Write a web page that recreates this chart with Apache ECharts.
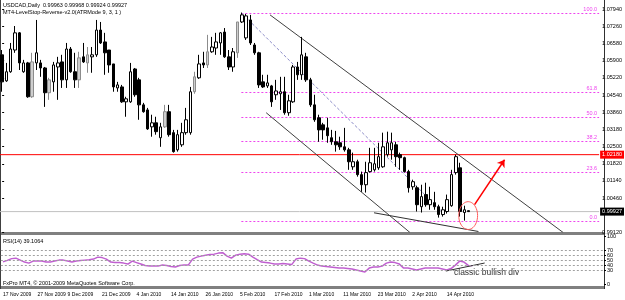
<!DOCTYPE html>
<html>
<head>
<meta charset="utf-8">
<script src="https://cdn.jsdelivr.net/npm/echarts@6.0.0/dist/echarts.min.js"></script>
<style>
  html, body { margin: 0; padding: 0; background: #fff; }
  #chart { width: 625px; height: 300px; }
</style>
</head>
<body>
<div id="chart"></div>
<script>
// USDCAD daily bars, 17 Nov 2009 .. 21 Apr 2010
const opens = [1.0613,1.0510,1.0546,1.0632,1.0700,1.0546,1.0581,1.0447,1.0581,1.0581,
  1.0561,1.0463,1.0506,1.0565,1.0585,1.0514,1.0636,1.0546,1.0514,1.0605,
  1.0581,1.0605,1.0613,1.0711,1.0664,1.0632,1.0577,1.0482,1.0486,1.0427,
  1.0427,1.0557,1.0514,1.0415,1.0395,1.0328,1.0344,1.0285,1.0328,1.0388,
  1.0305,1.0237,1.0257,1.0305,1.0305,1.0467,1.0522,1.0581,1.0573,1.0625,
  1.0640,1.0660,1.0703,1.0605,1.0565,1.0621,1.0743,1.0680,1.0751,1.0652,
  1.0621,1.0506,1.0490,1.0490,1.0455,1.0459,1.0467,1.0384,1.0427,1.0565,
  1.0534,1.0605,1.0514,1.0415,1.0364,1.0336,1.0324,1.0285,1.0269,1.0265,
  1.0249,1.0237,1.0170,1.0190,1.0139,1.0099,1.0151,1.0158,1.0166,1.0170,
  1.0218,1.0237,1.0257,1.0218,1.0206,1.0151,1.0091,1.0087,1.0012,1.0060,
  1.0020,1.0028,1.0012,0.9981,0.9993,1.0016,1.0147,1.0166,0.9989,0.99963];
const highs = [1.0632,1.0581,1.0660,1.0727,1.0703,1.0593,1.0585,1.0621,1.0751,1.0593,
  1.0565,1.0522,1.0585,1.0605,1.0613,1.0660,1.0644,1.0621,1.0625,1.0660,
  1.0644,1.0644,1.0751,1.0743,1.0700,1.0632,1.0577,1.0506,1.0494,1.0447,
  1.0581,1.0561,1.0522,1.0423,1.0403,1.0376,1.0368,1.0344,1.0415,1.0415,
  1.0316,1.0316,1.0344,1.0403,1.0486,1.0546,1.0613,1.0625,1.0692,1.0684,
  1.0700,1.0703,1.0719,1.0632,1.0640,1.0743,1.0780,1.0775,1.0771,1.0660,
  1.0625,1.0534,1.0534,1.0494,1.0514,1.0526,1.0526,1.0455,1.0573,1.0585,
  1.0684,1.0621,1.0522,1.0455,1.0376,1.0344,1.0364,1.0316,1.0312,1.0289,
  1.0324,1.0245,1.0226,1.0198,1.0151,1.0190,1.0245,1.0245,1.0265,1.0305,
  1.0309,1.0305,1.0269,1.0226,1.0210,1.0158,1.0119,1.0095,1.0099,1.0107,
  1.0091,1.0071,1.0020,1.0012,1.0060,1.0158,1.0218,1.0186,1.0016,0.99968];
const lows = [1.0467,1.0506,1.0542,1.0621,1.0553,1.0542,1.0443,1.0443,1.0553,1.0526,
  1.0407,1.0435,1.0467,1.0435,1.0482,1.0482,1.0542,1.0482,1.0482,1.0581,
  1.0542,1.0542,1.0605,1.0656,1.0534,1.0542,1.0467,1.0467,1.0423,1.0368,
  1.0423,1.0447,1.0356,1.0384,1.0316,1.0289,1.0297,1.0249,1.0324,1.0289,
  1.0226,1.0230,1.0249,1.0297,1.0297,1.0459,1.0518,1.0561,1.0561,1.0621,
  1.0613,1.0613,1.0601,1.0553,1.0546,1.0601,1.0739,1.0672,1.0652,1.0613,
  1.0482,1.0482,1.0482,1.0407,1.0435,1.0395,1.0376,1.0372,1.0423,1.0514,
  1.0514,1.0506,1.0407,1.0348,1.0269,1.0277,1.0265,1.0257,1.0230,1.0237,
  1.0230,1.0158,1.0158,1.0131,1.0071,1.0068,1.0147,1.0151,1.0158,1.0166,
  1.0210,1.0198,1.0170,1.0158,1.0147,1.0068,1.0079,0.9993,0.9989,1.0012,
  1.0000,1.0000,0.9969,0.9973,0.9985,1.0012,1.0139,0.9973,0.9957,0.99924];
const closes = [1.0506,1.0546,1.0636,1.0700,1.0581,1.0581,1.0447,1.0585,1.0621,1.0561,
  1.0463,1.0514,1.0573,1.0581,1.0514,1.0636,1.0546,1.0514,1.0601,1.0585,
  1.0613,1.0613,1.0711,1.0660,1.0621,1.0573,1.0486,1.0494,1.0427,1.0439,
  1.0546,1.0455,1.0415,1.0388,1.0320,1.0344,1.0309,1.0328,1.0388,1.0297,
  1.0230,1.0297,1.0305,1.0356,1.0467,1.0526,1.0577,1.0573,1.0625,1.0644,
  1.0664,1.0700,1.0605,1.0565,1.0625,1.0743,1.0771,1.0767,1.0660,1.0621,
  1.0494,1.0486,1.0502,1.0427,1.0470,1.0467,1.0384,1.0431,1.0565,1.0534,
  1.0613,1.0514,1.0415,1.0356,1.0316,1.0316,1.0293,1.0269,1.0257,1.0249,
  1.0237,1.0190,1.0190,1.0139,1.0099,1.0147,1.0186,1.0182,1.0210,1.0249,
  1.0265,1.0265,1.0210,1.0206,1.0151,1.0087,1.0111,1.0020,1.0052,1.0020,
  1.0040,1.0012,0.9981,1.0000,1.0040,1.0139,1.0210,0.9993,1.0000,0.99927];
// bars the indicator paints grey
const greyBars = [7, 11, 18, 20, 38, 45, 48, 55];

const rsiValues = [46.9,50,53.6,54.6,50.5,46.4,44.3,48.5,48.5,48.5,
  46.4,46.4,48.5,50.5,50.5,48.5,46.4,48.5,49.5,50.5,
  51.5,52.6,56.7,55.7,52.6,46.4,45.4,45.4,44.3,42.3,
  48.5,45.4,42.3,39.2,38.1,38.1,38.1,40.2,39.2,37.1,
  36.1,39.2,40.2,40.2,52.6,56.7,58.8,60.8,61.9,62.9,
  65,66,58.8,54.6,60.8,62.9,63.9,62.9,56.7,51.5,
  46.4,45.4,44.3,42.3,42.3,43.3,42.3,41.2,52.6,54.6,
  53.6,48.5,44.3,40.2,38.1,37.1,36.1,35.1,34,34,
  33,32,29.9,27.8,25.8,34,36.1,36.1,38.1,44.3,
  46.4,45.4,42.3,34,34,32,29.9,32,34,34,
  34,34,32,29.9,33,40.2,48.5,46.4,39.5,39.1064];

const barSlots = 140; // visible bar positions incl. empty right margin
const dateTicks = [0, 8, 15, 23, 31, 39, 47, 55, 63, 71, 79, 87, 95, 103];
const dateLabels = ['17 Nov 2009', '27 Nov 2009', '9 Dec 2009', '21 Dec 2009', '4 Jan 2010',
  '14 Jan 2010', '26 Jan 2010', '5 Feb 2010', '17 Feb 2010', '1 Mar 2010', '11 Mar 2010',
  '23 Mar 2010', '2 Apr 2010', '14 Apr 2010'];
const priceTicks = [1.0794, 1.0726, 1.0658, 1.0590, 1.0522, 1.0454, 1.0386, 1.0318,
  1.0250, 1.0182, 1.0114, 1.0046, 0.9912];
const rsiTicks = [0, 30, 40, 50, 60, 70, 100];
const rsiLevels = [30, 40, 50, 60, 70];

// fibo retracement from the Feb high to the Apr low
const fibRatios = [0, 23.6, 38.2, 50, 61.8, 100];
const fibLow = 0.9957;
const fibHigh = 1.0780;
const fibStartBar = 55.9;

// hand drawn objects: [bar, price]
const upperChannel = [[62.6, 1.0771], [131.1, 0.9910]];
const lowerChannel = [[61.7, 1.0384], [95.3, 0.9910]];
const highTrend = [[55.9, 1.0779], [103, 0.9989]];
const lowsLine = [[86.9, 0.9988], [111.3, 0.9914]];
const arrowLine = [[110.4, 1.0020], [117.4, 1.0198]];
const circleMark = [108.9, 0.9977, 2.2, 0.0055]; // bar, price, half width (bars), half height (price)
const rsiDivLine = [[102.8, 27.9], [111.8, 44.5]];
const resistLevel = 1.0218;
const lastPrice = 0.99927;

const FONT = 'Liberation Sans, Arial, sans-serif';
const slotNames = Array.from({ length: barSlots }, (_, i) => String(i));
const dateAt = {};
dateTicks.forEach((t, k) => { dateAt[t] = dateLabels[k]; });

const candleData = opens.map((o, i) => {
  const item = { value: [o, closes[i], lows[i], highs[i]] };
  if (greyBars.includes(i)) {
    item.itemStyle = { color: '#cfcfcf', color0: '#cfcfcf', borderColor: '#8c8c8c', borderColor0: '#8c8c8c' };
  }
  return item;
});

function trend (points, color, width, dash) {
  return {
    type: 'line', xAxisIndex: 1, yAxisIndex: 0, data: points, symbol: 'none', silent: true,
    lineStyle: { color: color, width: width, type: dash || 'solid' }, z: 3
  };
}

// horizontal price line across the whole window with a tag on the price scale
function priceLine (level, color, tagColor) {
  const s = trend([[-0.5, level], [barSlots - 0.5, level]], color, 1);
  s.z = 2;
  s.endLabel = {
    show: true, distance: 1, formatter: level.toFixed(5),
    backgroundColor: tagColor, color: '#fff', fontSize: 5.5, padding: [1, 2], fontFamily: FONT
  };
  return s;
}

const chart = echarts.init(document.getElementById('chart'));
const lowsSeries = trend(lowsLine, '#303030', 1);
lowsSeries.markLine = {
  silent: true, symbol: ['none', 'arrow'], symbolSize: 7,
  label: { show: false },
  lineStyle: { color: '#ff0000', width: 1.5, type: 'solid' },
  data: [[{ coord: arrowLine[0] }, { coord: arrowLine[1] }]]
};

const option = {
  animation: false,
  backgroundColor: '#ffffff',
  textStyle: { fontFamily: FONT },
  grid: [
    { left: 0, right: 21, top: 2, height: 230 },
    { left: 0, right: 21, top: 235, height: 50 }
  ],
  xAxis: [
    { type: 'category', gridIndex: 0, data: slotNames, show: false },
    { type: 'value', gridIndex: 0, min: -0.5, max: barSlots - 0.5, show: false },
    {
      type: 'category', gridIndex: 1, data: slotNames,
      axisLine: { show: false, onZero: false }, axisTick: { show: false }, splitLine: { show: false },
      axisLabel: {
        interval: (i) => dateTicks.includes(i),
        showMinLabel: true,
        formatter: (v) => dateAt[+v] || '',
        align: 'left', fontSize: 5, color: '#000', margin: 7.5, fontFamily: FONT
      }
    },
    { type: 'value', gridIndex: 1, min: -0.5, max: barSlots - 0.5, show: false, axisLine: { onZero: false } }
  ],
  yAxis: [
    {
      type: 'value', gridIndex: 0, position: 'right', min: 0.9912, max: 1.0822,
      splitLine: { show: false }, axisLine: { show: false },
      axisTick: { show: true, length: 2, customValues: priceTicks, lineStyle: { color: '#000' } },
      axisLabel: { customValues: priceTicks, formatter: (v) => v.toFixed(5), fontSize: 5.5, color: '#000', margin: 3, fontFamily: FONT }
    },
    {
      type: 'value', gridIndex: 1, position: 'right', min: -1, max: 102.5,
      splitLine: { show: false }, axisLine: { show: false, onZero: false },
      axisTick: { show: true, length: 2, customValues: rsiTicks, lineStyle: { color: '#000' } },
      axisLabel: {
        customValues: rsiTicks, showMinLabel: true, fontSize: 5.5, color: '#000', margin: 3, fontFamily: FONT,
        formatter: (v) => String(Math.round(v))
      }
    }
  ],
  series: [
    {
      type: 'candlestick', xAxisIndex: 0, yAxisIndex: 0, data: candleData, barWidth: 3, z: 3,
      itemStyle: { color: '#ffffff', color0: '#000000', borderColor: '#000000', borderColor0: '#000000', borderWidth: 1 }
    },
    priceLine(resistLevel, '#ff0000', '#ff0000'),
    priceLine(lastPrice, '#c0c0c0', '#000000'),
    {
      type: 'custom', xAxisIndex: 1, yAxisIndex: 0, silent: true, z: 2,
      data: fibRatios.map(r => [r]),
      renderItem: function (params, api) {
        const ratio = api.value(0);
        const price = fibLow + (fibHigh - fibLow) * ratio / 100;
        const p = api.coord([fibStartBar, price]);
        const y = Math.round(p[1]) + 0.5;
        const right = params.coordSys.x + params.coordSys.width;
        return {
          type: 'group',
          children: [
            { type: 'line', shape: { x1: p[0], y1: y, x2: right, y2: y }, style: { stroke: '#ee44ee', lineWidth: 1, lineDash: [2, 2] } },
            { type: 'text', style: { text: ratio.toFixed(1), x: right - 2, y: y - 1, align: 'right', verticalAlign: 'bottom', fill: '#ee44ee', fontSize: 5.5, fontFamily: FONT } }
          ]
        };
      }
    },
    trend(upperChannel, '#404040', 1),
    trend(lowerChannel, '#404040', 1),
    trend(highTrend, '#8c8cc8', 1, [3, 2]),
    lowsSeries,
    {
      type: 'custom', xAxisIndex: 1, yAxisIndex: 0, silent: true, z: 4,
      data: [circleMark],
      renderItem: function (params, api) {
        const c = api.coord([api.value(0), api.value(1)]);
        const s = api.size([api.value(2), api.value(3)]);
        const pts = [];
        for (let k = 0; k < 48; k++) {
          const a = k / 48 * Math.PI * 2;
          pts.push([c[0] + s[0] * Math.cos(a), c[1] + s[1] * Math.sin(a)]);
        }
        return { type: 'polygon', shape: { points: pts }, style: { fill: 'none', stroke: '#ff5a5a', lineWidth: 1 } };
      }
    },
    {
      type: 'line', xAxisIndex: 2, yAxisIndex: 1, data: rsiValues, symbol: 'none', silent: true,
      lineStyle: { color: '#c060d0', width: 1.5 },
      markLine: {
        silent: true, symbol: 'none', label: { show: false },
        lineStyle: { color: '#a0a0a0', width: 1, type: [2, 2] },
        data: rsiLevels.map(v => ({ yAxis: v }))
      }
    },
    {
      type: 'line', xAxisIndex: 3, yAxisIndex: 1, data: rsiDivLine, symbol: 'none', silent: true,
      lineStyle: { color: '#303030', width: 1 }
    }
  ],
  graphic: [
    { type: 'rect', silent: true, z: -1, shape: { x: 0, y: 232, width: 605, height: 3 }, style: { fill: '#808080' } },
    { type: 'rect', silent: true, z: -1, shape: { x: 0, y: 286, width: 605, height: 3 }, style: { fill: '#808080' } },
    { type: 'line', silent: true, shape: { x1: 0.5, y1: 0, x2: 0.5, y2: 289 }, style: { stroke: '#404040' } },
    { type: 'line', silent: true, shape: { x1: 604.5, y1: 0, x2: 604.5, y2: 289 }, style: { stroke: '#303030' } },
    { type: 'text', silent: true, left: 3, top: 2, style: { text: 'USDCAD,Daily  0.99963 0.99968 0.99924 0.99927', fill: '#000', fontSize: 5.5, fontFamily: FONT } },
    { type: 'text', silent: true, left: 3, top: 9, style: { text: 'MT4-LevelStop-Reverse-v2.0(ATRMode 9, 3, 1 )', fill: '#000', fontSize: 5.5, fontFamily: FONT } },
    { type: 'text', silent: true, left: 3, top: 238, style: { text: 'RSI(14) 39.1064', fill: '#000', fontSize: 5.5, fontFamily: FONT } },
    { type: 'text', silent: true, left: 3, top: 280, style: { text: 'FxPro MT4, © 2001-2009 MetaQuotes Software Corp.', fill: '#000', fontSize: 5.5, fontFamily: FONT } },
    { type: 'text', silent: true, left: 454, top: 268, style: { text: 'classic bullish div', fill: '#333', fontSize: 8.5, fontFamily: FONT } }
  ]
};

chart.setOption(option);
window.addEventListener('resize', () => {
  chart.resize();
});
</script>
</body>
</html>
